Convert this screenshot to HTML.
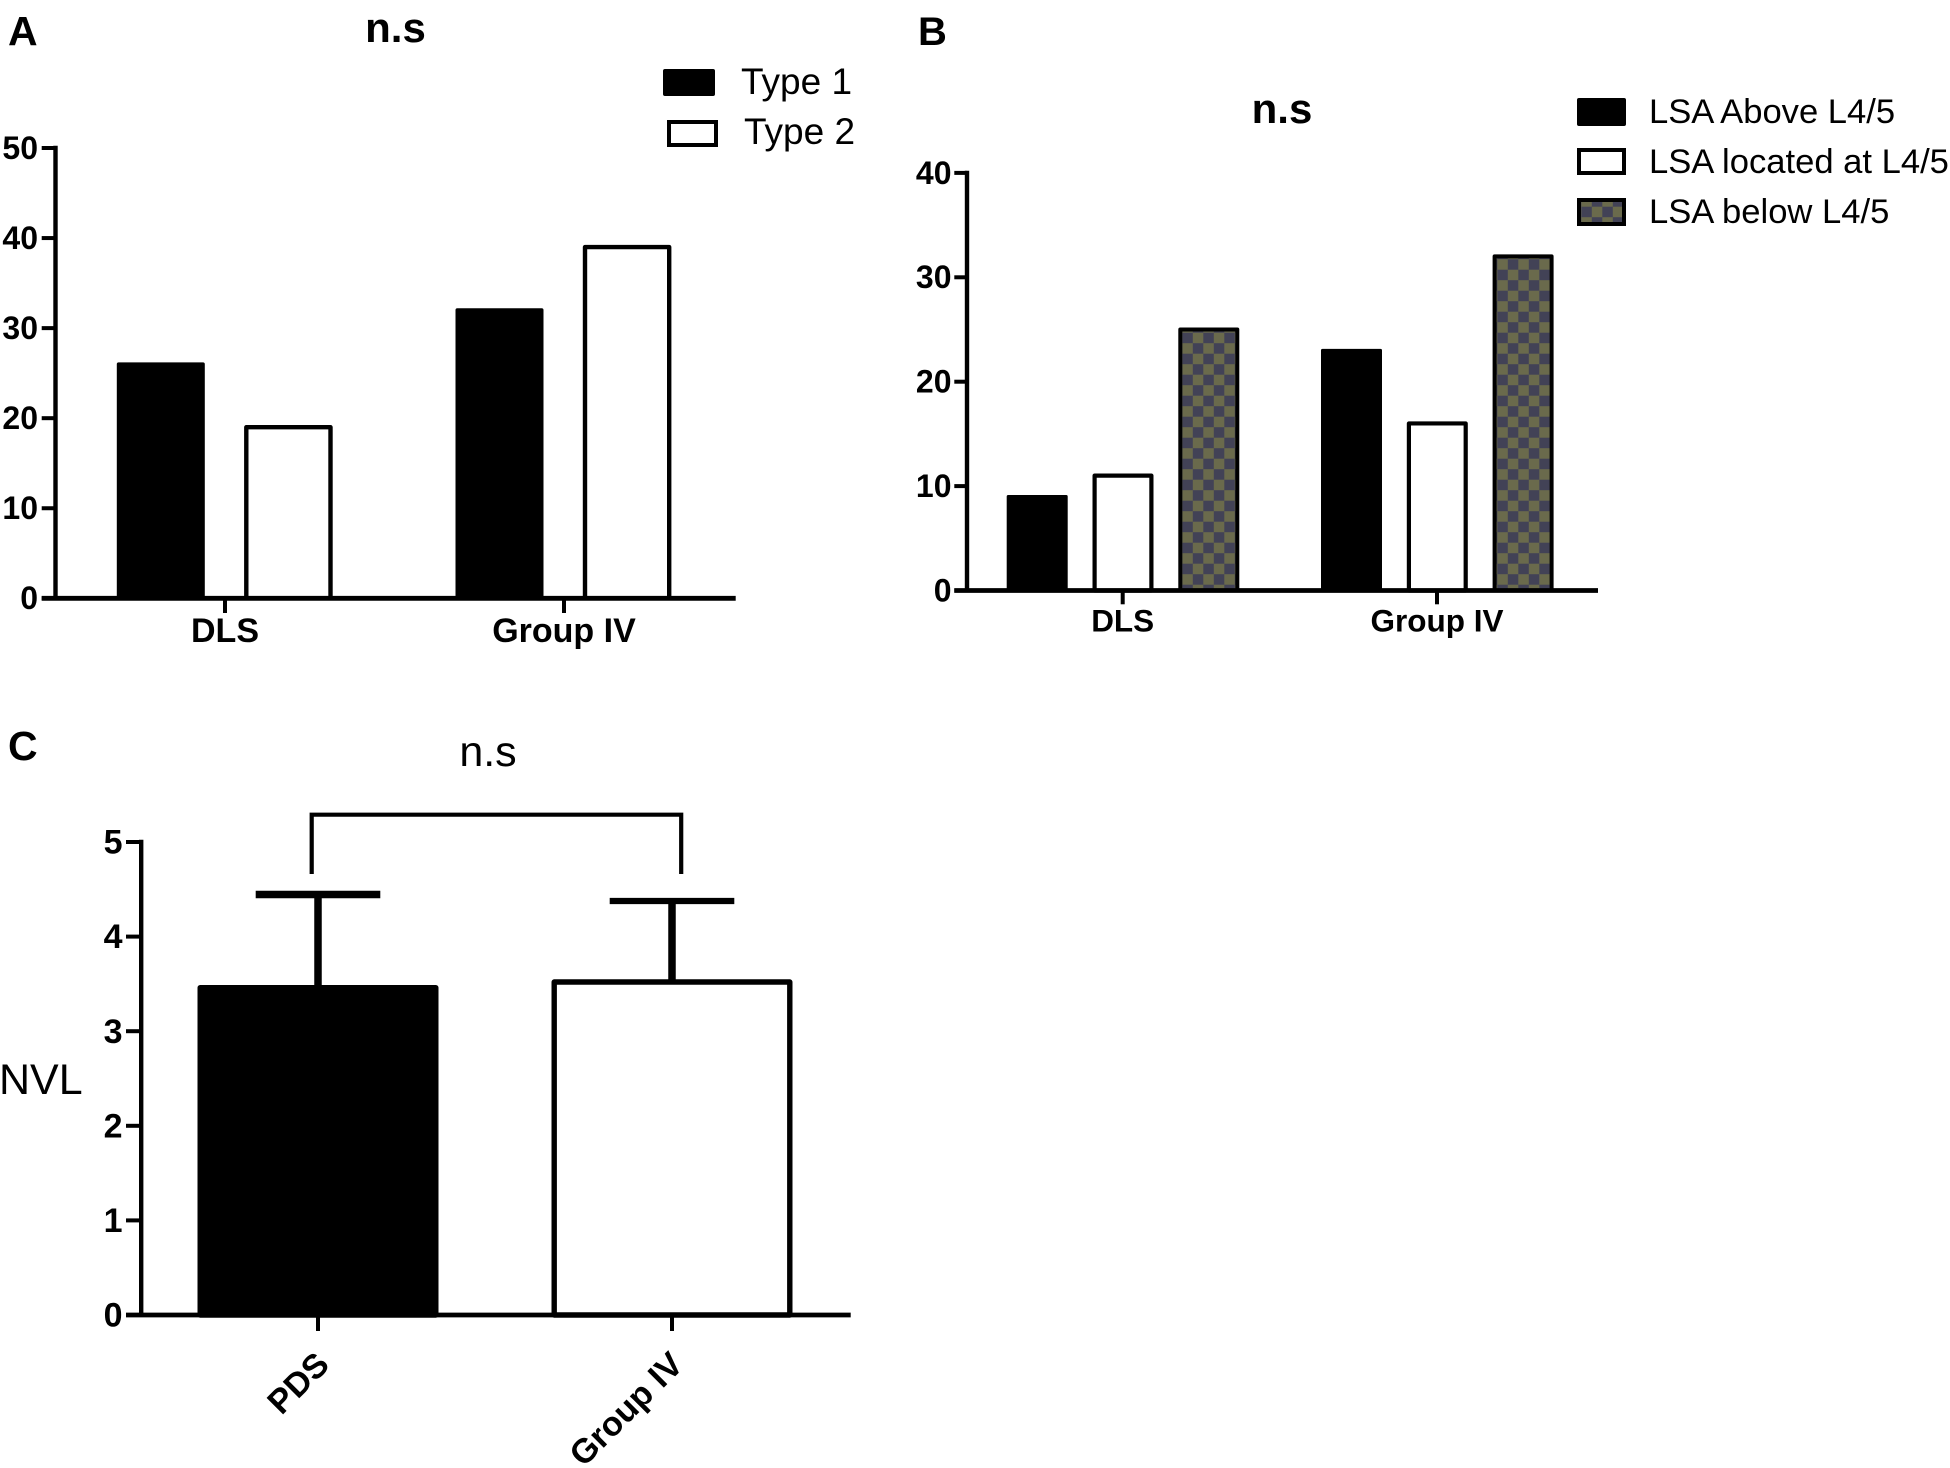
<!DOCTYPE html>
<html lang="en">
<head>
<meta charset="utf-8">
<title>Grouped bar charts</title>
<style>
html,body{margin:0;padding:0;background:#fff;width:1950px;height:1468px;overflow:hidden}
svg{display:block}
text{font-family:"Liberation Sans",sans-serif;fill:#000}
.b{font-weight:bold}
</style>
</head>
<body>
<svg id="figure" xmlns="http://www.w3.org/2000/svg" width="1950" height="1468" viewBox="0 0 1950 1468">
<defs>
<pattern id="checker" patternUnits="userSpaceOnUse" width="21" height="21" patternTransform="translate(6.3 17.7)">
<rect width="21" height="21" fill="#6a6a4c"/>
<rect width="10.5" height="10.5" fill="#424256"/>
<rect x="10.5" y="10.5" width="10.5" height="10.5" fill="#424256"/>
</pattern>
</defs>
<rect width="1950" height="1468" fill="#fff"/>

<text class="b" x="8" y="45" font-size="41">A</text>
<text class="b" x="918" y="45" font-size="40">B</text>
<text class="b" x="8" y="760" font-size="41">C</text>

<text class="b" x="395.5" y="42" font-size="42" text-anchor="middle">n.s</text>
<text class="b" x="1282" y="123" font-size="42" text-anchor="middle">n.s</text>
<text x="488" y="766" font-size="43" text-anchor="middle">n.s</text>
<text x="-1" y="1094" font-size="43">NVL</text>

<g>
<rect x="663" y="69" width="52" height="27" rx="2" fill="#000"/>
<text x="741" y="94" font-size="37">Type 1</text>
<rect x="669" y="122" width="47" height="23" fill="#fff" stroke="#000" stroke-width="4"/>
<text x="744" y="144" font-size="37">Type 2</text>
</g>

<g>
<rect x="1577" y="98" width="49" height="28" rx="2" fill="#000"/>
<text x="1649" y="123" font-size="34.6">LSA Above L4/5</text>
<rect x="1579" y="150" width="45" height="23" fill="#fff" stroke="#000" stroke-width="4"/>
<text x="1649" y="173" font-size="34.6">LSA located at L4/5</text>
<rect x="1579" y="200" width="45" height="24" fill="url(#checker)" stroke="#000" stroke-width="4"/>
<text x="1649" y="223" font-size="34.6">LSA below L4/5</text>
</g>

<path d="M311.7 874V814.7H681.2V874" fill="none" stroke="#000" stroke-width="4.2"/>
</svg>

<script>
// Panel A data
const categoriesA = ["DLS", "Group IV"];
const type1Values = [26, 32];
const type2Values = [19, 39];
const yTicksA = [0, 10, 20, 30, 40, 50];

// Panel B data
const categoriesB = ["DLS", "Group IV"];
const lsaAboveValues = [9, 23];
const lsaLocatedValues = [11, 16];
const lsaBelowValues = [25, 32];
const yTicksB = [0, 10, 20, 30, 40];

// Panel C data
const categoriesC = ["PDS", "Group IV"];
const nvlMeans = [3.46, 3.52];
const nvlErrors = [0.985, 0.856];
const yTicksC = [0, 1, 2, 3, 4, 5];

const svg = document.getElementById('figure');
const NS = 'http://www.w3.org/2000/svg';
const AXIS_W = 4.4;

function mk(tag, attrs, txt) {
  const el = document.createElementNS(NS, tag);
  for (const k in attrs) el.setAttribute(k, attrs[k]);
  if (txt !== undefined) el.textContent = txt;
  svg.appendChild(el);
  return el;
}

// axis functions
const yA = v => 598.3 - v * 9.006;
const xA = (g, s) => 224.6 + g * 338.7 + (s - 0.5) * 127.6;
const catA = g => 225 + g * 339;
const yB = v => 590.5 - v * 10.44;
const xB = (g, s) => 1123 + g * 314.3 + (s - 1) * 85.8;
const catB = g => 1122.7 + g * 314.3;
const yC = v => 1315 - v * 94.6;
const xC = g => 318 + g * 354;

function drawBar(name, cx, w, top, base, fill, sw) {
  const el = mk('rect', {x: cx - w / 2 + sw / 2, y: top, width: w - sw, height: base - top, fill: fill, stroke: '#000', 'stroke-width': sw, 'stroke-linejoin': 'round'});
  
  
}

function drawAxes(panel, xAxis0, xAxis1, yAxisX, y, ticks, labelRight, labelSize) {
  const yAxis = mk('line', {x1: yAxisX, x2: yAxisX, y1: y(ticks[ticks.length - 1]) - 2.2, y2: y(ticks[0]), stroke: '#000', 'stroke-width': AXIS_W});
  
  
  const xAxis = mk('line', {x1: xAxis0, x2: xAxis1, y1: y(ticks[0]), y2: y(ticks[0]), stroke: '#000', 'stroke-width': AXIS_W + 0.4});
  
  
  ticks.forEach(function (t) {
    const tick = mk('line', {x1: xAxis0, x2: yAxisX, y1: y(t), y2: y(t), stroke: '#000', 'stroke-width': 4});
    
    
    const lab = mk('text', {x: labelRight, y: y(t) + labelSize * 0.34, 'font-size': labelSize, 'font-weight': 'bold', 'text-anchor': 'end'}, String(t));
    
    
  });
}

function drawCatTick(panel, x, y0, y1) {
  const tick = mk('line', {x1: x, x2: x, y1: y0, y2: y1, stroke: '#000', 'stroke-width': 4});
  
  
}

// Panel A
categoriesA.forEach(function (c, g) {
  drawBar('bar-a-type1-' + g, xA(g, 0), 88, yA(type1Values[g]), yA(0), '#000', 3.6);
  drawBar('bar-a-type2-' + g, xA(g, 1), 88.6, yA(type2Values[g]), yA(0), '#fff', 4.4);
  drawCatTick('panel-a', catA(g), yA(0), 613);
  const lab = mk('text', {x: catA(g), y: 642, 'font-size': 34, 'font-weight': 'bold', 'text-anchor': 'middle'}, c);
  
  
});
drawAxes('panel-a', 41.7, 735.7, 55.5, yA, yTicksA, 38, 32);

// Panel B
categoriesB.forEach(function (c, g) {
  drawBar('bar-b-above-' + g, xB(g, 0), 61, yB(lsaAboveValues[g]), yB(0), '#000', 3);
  drawBar('bar-b-located-' + g, xB(g, 1), 61, yB(lsaLocatedValues[g]), yB(0), '#fff', 4.2);
  drawBar('bar-b-below-' + g, xB(g, 2), 61, yB(lsaBelowValues[g]), yB(0), 'url(#checker)', 4);
  drawCatTick('panel-b', catB(g), yB(0), 604.3);
  const lab = mk('text', {x: catB(g), y: 631.5, 'font-size': 31.5, 'font-weight': 'bold', 'text-anchor': 'middle'}, c);
  
  
});
drawAxes('panel-b', 954.3, 1598, 967, yB, yTicksB, 951.5, 32);

// Panel C
categoriesC.forEach(function (c, g) {
  const top = yC(nvlMeans[g]);
  const capY = yC(nvlMeans[g] + nvlErrors[g]);
  const stem = mk('line', {x1: xC(g), x2: xC(g), y1: top, y2: capY, stroke: '#000', 'stroke-width': 7.5});
  
  
  const cap = mk('line', {x1: xC(g) - 62.3, x2: xC(g) + 62.3, y1: capY, y2: capY, stroke: '#000', 'stroke-width': g === 0 ? 7.5 : 6.3});
  
  
  drawBar('bar-c-' + g, xC(g), 241, top, yC(0), g === 0 ? '#000' : '#fff', 5.4);
  drawCatTick('panel-c', xC(g), yC(0), 1331);
  const lx = xC(g) + 13;
  const ly = 1366.5;
  const lab = mk('text', {x: lx, y: ly, 'font-size': 34, 'font-weight': 'bold', 'text-anchor': 'end', transform: 'rotate(-45 ' + lx + ' ' + ly + ')'}, c);
  
  
});
drawAxes('panel-c', 126, 850.7, 141.2, yC, yTicksC, 122.5, 34);
</script>
</body>
</html>
